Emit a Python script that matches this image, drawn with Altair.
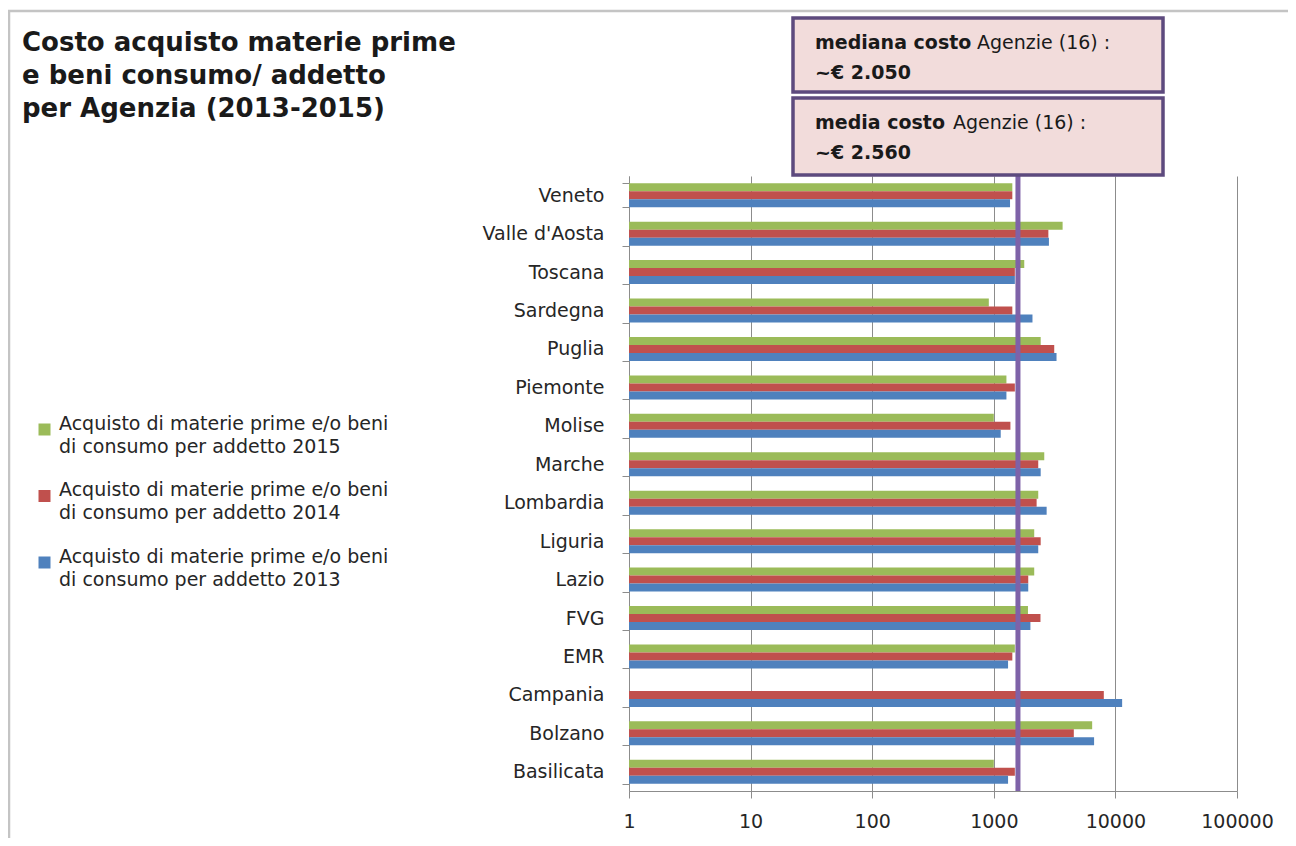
import altair as alt
import pandas as pd

FONT = "DejaVu Sans"

# ---------------- data ----------------
regions = ["Veneto", "Valle d'Aosta", "Toscana", "Sardegna", "Puglia", "Piemonte",
           "Molise", "Marche", "Lombardia", "Liguria", "Lazio", "FVG", "EMR",
           "Campania", "Bolzano", "Basilicata"]

series_names = [
    "Acquisto di materie prime e/o beni di consumo per addetto 2015",
    "Acquisto di materie prime e/o beni di consumo per addetto 2014",
    "Acquisto di materie prime e/o beni di consumo per addetto 2013",
]
series_colors = ["#9BBB59", "#C0504D", "#4F81BD"]

v2015 = [1420, 3680, 1780, 910, 2430, 1270, 1000, 2600, 2320, 2150, 2150, 1910, 1490, None, 6440, 1000]
v2014 = [1420, 2810, 1490, 1420, 3140, 1490, 1370, 2320, 2250, 2430, 1920, 2420, 1420, 8030, 4550, 1490]
v2013 = [1360, 2840, 1490, 2080, 3280, 1270, 1140, 2430, 2720, 2320, 1920, 2000, 1310, 11360, 6680, 1310]

x_ticks = [1, 10, 100, 1000, 10000, 100000]
ref_line_value = [1580]

title_lines = ["Costo acquisto materie prime", "e beni consumo/ addetto", "per Agenzia (2013-2015)"]
box1_bold, box1_regular, box1_value = "mediana costo", "Agenzie (16) :", "~€ 2.050"
box2_bold, box2_regular, box2_value = "media costo", "Agenzie (16) :", "~€ 2.560"

# ---------------- tables ----------------
rows = []
for s, vals in zip(series_names, [v2015, v2014, v2013]):
    for r, v in zip(regions, vals):
        if v is not None:
            rows.append({"region": r, "series": s, "cost": float(v)})
df = pd.DataFrame(rows)
one = pd.DataFrame({"k": [0]})

AX_GRAY = "#8C8C8C"
TXT = "#262626"

legend = alt.Legend(title=None, orient="none", legendX=-594, legendY=244,
                    symbolType="square", symbolSize=144, symbolStrokeWidth=0,
                    labelFont=FONT, labelFontSize=19, labelColor=TXT, labelLimit=600,
                    labelOffset=5, rowPadding=23.5, labelBaseline="alphabetic", padding=0,
                    labelExpr="[substring(datum.label, 0, 34), substring(datum.label, 35)]")

# ---------------- layers ----------------
frame = alt.Chart(one).mark_rect(fillOpacity=0, stroke="#C4C4C4", strokeWidth=2.5).encode(
    x=alt.value(-620), x2=alt.value(2000), y=alt.value(-165), y2=alt.value(2000)
)

bars = alt.Chart(df).mark_bar().encode(
    x=alt.X("cost:Q", stack=False,
            scale=alt.Scale(type="log", domain=[1, 100000], nice=False),
            axis=alt.Axis(values=x_ticks, format="d", title=None, grid=True,
                          gridColor=AX_GRAY, gridWidth=1, domainColor=AX_GRAY,
                          tickColor=AX_GRAY, tickSize=7, labelFont=FONT,
                          labelFontSize=19, labelColor=TXT, labelPadding=14,
                          labelFlush=False)),
    y=alt.Y("region:N", sort=regions,
            scale=alt.Scale(paddingInner=0.375, paddingOuter=0.1875),
            axis=alt.Axis(title=None, tickBand="extent", tickSize=7, tickColor=AX_GRAY,
                          domainColor=AX_GRAY, labelFont=FONT, labelFontSize=19,
                          labelColor=TXT, labelPadding=18, grid=False)),
    yOffset=alt.YOffset("series:N", sort=series_names,
                        scale=alt.Scale(paddingInner=0, paddingOuter=0)),
    color=alt.Color("series:N", sort=series_names,
                    scale=alt.Scale(domain=series_names, range=series_colors),
                    legend=legend),
)

rule = alt.Chart(pd.DataFrame({"v": ref_line_value})).mark_rule(
    color="#7E62A8", strokeWidth=5
).encode(x=alt.X("v:Q", title=None), y=alt.value(-2), y2=alt.value(615))

BOX_FILL = "#F2DCDB"
BOX_STROKE = "#5D4A7E"
box1 = alt.Chart(one).mark_rect(fill=BOX_FILL, stroke=BOX_STROKE, strokeWidth=3.5).encode(
    x=alt.value(164), x2=alt.value(534), y=alt.value(-158), y2=alt.value(-84))
box2 = alt.Chart(one).mark_rect(fill=BOX_FILL, stroke=BOX_STROKE, strokeWidth=3.5).encode(
    x=alt.value(164), x2=alt.value(534), y=alt.value(-78), y2=alt.value(-1))


def txt(text, x, y, size=19, bold=False):
    return alt.Chart(one).mark_text(
        text=text, font=FONT, fontSize=size, fontWeight="bold" if bold else "normal",
        color="#1A1A1A", align="left", baseline="alphabetic", lineHeight=33
    ).encode(x=alt.value(x), y=alt.value(y))


title = txt(title_lines, -607, -125, size=26, bold=True)
t1a = txt(box1_bold, 186, -127, bold=True)
t1b = txt(box1_regular, 348, -127)
t1c = txt(box1_value, 186, -97, bold=True)
t2a = txt(box2_bold, 186, -47, bold=True)
t2b = txt(box2_regular, 324, -47)
t2c = txt(box2_value, 186, -17, bold=True)

chart = alt.layer(frame, bars, rule, box1, box2, title,
                  t1a, t1b, t1c, t2a, t2b, t2c).properties(
    width=608, height=615,
    autosize=alt.AutoSizeParams(type="none"),
    padding={"left": 621, "top": 168, "right": 51, "bottom": 47},
    background="white",
).configure(view=alt.ViewConfig(strokeWidth=0),
            style={"guide-label": {"lineHeight": 23}})

chart.save("out.html", embed_options={"renderer": "svg", "actions": False})
